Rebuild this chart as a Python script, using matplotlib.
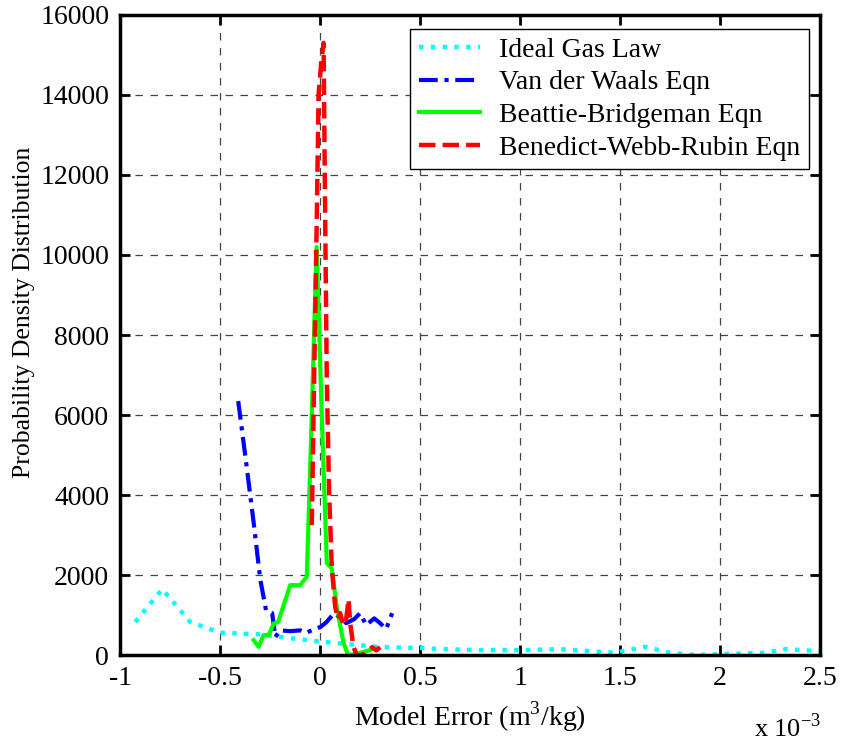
import numpy as np
import matplotlib
matplotlib.use("Agg")
import matplotlib.pyplot as plt

plt.rcParams['font.family'] = ['Liberation Serif', 'DejaVu Serif']
plt.rcParams['mathtext.fontset'] = 'custom'
plt.rcParams['mathtext.rm'] = 'Liberation Serif'

# x values are in units of 1e-3 m^3/kg
ideal_x = [-0.925, -0.79, -0.65, -0.5, -0.3, -0.15, 0.0, 0.2, 0.3, 0.5, 0.63, 0.8, 1.0,
           1.2, 1.47, 1.625, 1.75, 1.88, 2.0, 2.22, 2.33, 2.5]
ideal_y = [830, 1650, 830, 560, 520, 425, 340, 250, 200, 180, 150, 125, 125,
           150, 60, 210, 60, 0, 25, 60, 150, 100]

vdw_x = [-0.41, -0.37, -0.33, -0.30, -0.27, -0.24, -0.225, -0.2, -0.15, -0.1, -0.07,
         -0.03, 0.0, 0.03, 0.07, 0.1, 0.13, 0.17, 0.2, 0.23, 0.27, 0.3, 0.33, 0.36]
vdw_y = [6350, 4800, 3200, 1900, 1100, 1050, 450, 620, 600, 620, 560,
         650, 700, 820, 1050, 950, 800, 900, 1050, 750, 920, 800, 650, 1050]

bb_x = [-0.333, -0.308, -0.283, -0.258, -0.233, -0.21, -0.15, -0.1, -0.067, -0.045,
        -0.018, 0.008, 0.033, 0.058, 0.083, 0.117, 0.14, 0.17, 0.2, 0.23, 0.26]
bb_y = [375, 210, 500, 500, 790, 830, 1750, 1750, 1960, 5500,
        10200, 6000, 2300, 2170, 1200, 300, 0, 30, 60, 100, 150]

bwr_x = [-0.042, -0.03, -0.017, -0.008, 0.005, 0.017, 0.025, 0.033, 0.045, 0.058, 0.075,
         0.09, 0.1, 0.11, 0.12, 0.13, 0.142, 0.15, 0.167, 0.183, 0.2, 0.22, 0.24, 0.26,
         0.28, 0.3]
bwr_y = [3250, 7000, 10900, 14000, 14800, 15300, 10900, 6900, 4000, 2200, 1200,
         900, 1050, 850, 1000, 900, 1400, 800, 200, 0, 0, 30, 100, 200,
         120, 200]

fig = plt.figure(figsize=(8.41, 7.42), dpi=100)
ax = fig.add_axes([0.143, 0.117, 0.832, 0.863])

ax.plot(ideal_x, ideal_y, color=(0, 1, 1), linestyle=':', linewidth=3.2, label='Ideal Gas Law')
ax.plot(vdw_x, vdw_y, color=(0, 0, 1), linestyle=(0, (4.5, 1.6, 1, 1.6)), linewidth=3.0,
        label='Van der Waals Eqn')
ax.plot(bb_x, bb_y, color=(0, 1, 0), linestyle='-', linewidth=3.0, label='Beattie-Bridgeman Eqn')
ax.plot(bwr_x, bwr_y, color=(1, 0, 0), linestyle='--', linewidth=3.2, label='Benedict-Webb-Rubin Eqn')

ax.set_xlim(-1, 2.5)
ax.set_ylim(0, 16000)
ax.set_xticks(np.arange(-1, 2.51, 0.5))
ax.set_xticklabels(['-1', '-0.5', '0', '0.5', '1', '1.5', '2', '2.5'])
ax.set_yticks(np.arange(0, 16001, 2000))

ax.grid(True, color='#444444', linestyle=(0, (6, 6)), linewidth=0.9)
ax.tick_params(direction='in', top=True, right=True, length=7, width=2, labelsize=20, pad=8)
for s in ax.spines.values():
    s.set_linewidth(2.5)

ax.set_xlabel('Model Error (m$^3$/kg)', fontsize=20, labelpad=6)
ax.set_ylabel('Probability Density Distribution', fontsize=18.5)
ax.yaxis.set_label_coords(-0.122, 0.535)
fig.text(0.897, 0.0, 'x 10$^{-3}$', fontsize=19, ha='left', va='bottom')

leg = ax.legend(loc='upper right', fontsize=20, frameon=True, fancybox=False,
                framealpha=1, edgecolor='black', borderpad=0.3, handlelength=2.2,
                handletextpad=0.7, labelspacing=0.26, borderaxespad=0.0,
                bbox_to_anchor=(0.984, 0.978))
leg.get_frame().set_linewidth(1.0)

fig.savefig('out.png', dpi=100)
